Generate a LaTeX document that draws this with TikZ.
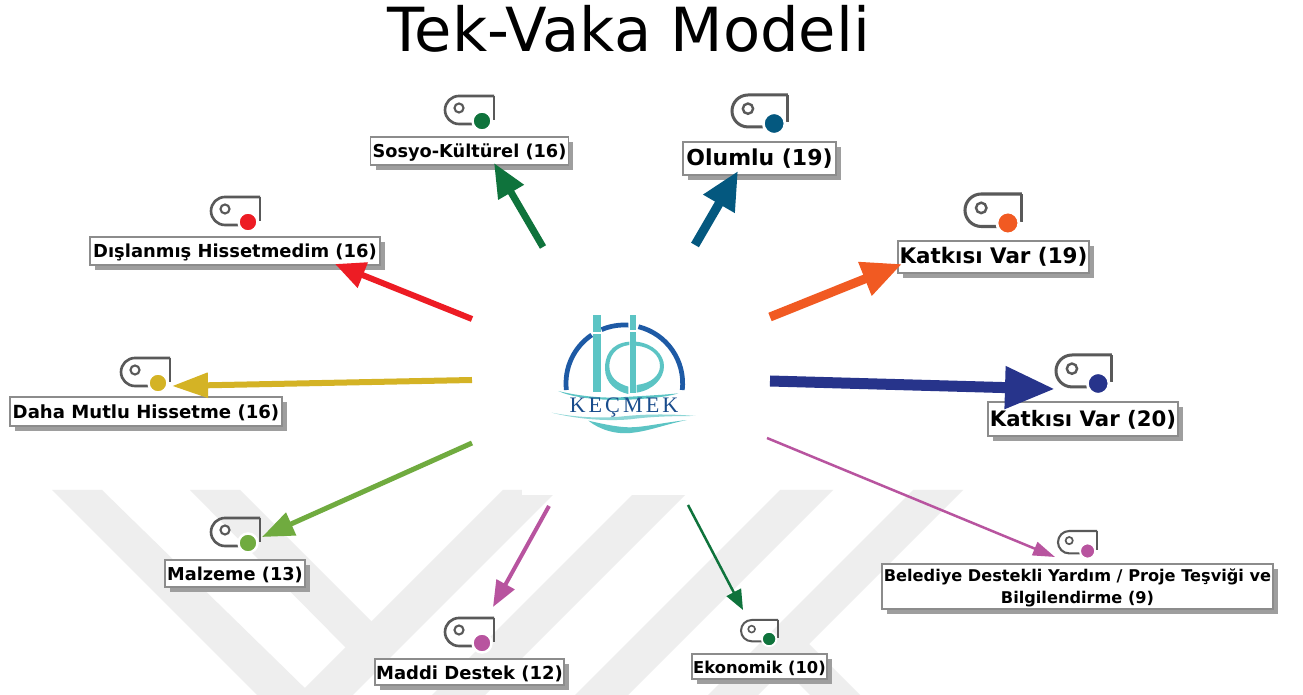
\documentclass[tikz,border=0pt]{standalone}
\usepackage{fontspec}
\setmainfont{DejaVu Sans}
\newfontfamily\logofont[LetterSpace=14]{Liberation Serif}
\usetikzlibrary{arrows.meta,shadows}
\definecolor{sosyocol}{RGB}{15,115,60}
\definecolor{olumlucol}{RGB}{4,88,127}
\definecolor{katkicol}{RGB}{241,90,34}
\definecolor{navycol}{RGB}{39,52,139}
\definecolor{morcol}{RGB}{184,84,159}
\definecolor{yesilcol}{RGB}{112,171,63}
\definecolor{saricol}{RGB}{212,179,37}
\definecolor{kirmizicol}{RGB}{237,28,36}
\definecolor{logoblue}{RGB}{30,90,165}
\definecolor{logoteal}{RGB}{92,196,196}
\definecolor{izcol}{RGB}{238,238,238}
\tikzset{
    etiket/.style={draw=black!45,line width=.7pt,fill=white,inner sep=0pt,align=center,
        drop shadow={shadow xshift=.1cm,shadow yshift=-.1cm,opacity=1,fill=black!38}},
    tekli/.style={etiket,text height=1.75ex},
    ok/.style n args={4}{draw=#1,line width=#2*.02cm,
        -{Triangle[length=#3*.02cm,width=#4*.02cm]}},
    iz/.style={fill=izcol,draw=none}
}
% x y scale colour
\newcommand{\simge}[4]{
    \begin{scope}[shift={(#1,#2)},scale=#3]
        \draw[black!65,line width=#3*1.5pt] (49,0) -- (14,0) arc (270:90:14) -- (28,28);
        \draw[black!65,line width=#3*1.5pt] (49,0) -- (49,24);
        \draw[black!65,line width=#3*1.2pt] (14,12) circle (4.5);
        \draw[draw=white,line width=#3*1.4pt,fill=#4] (37,25) circle (9.5);
    \end{scope}
}
\begin{document}
\begin{tikzpicture}[x=.02cm,y=-.02cm]
    \useasboundingbox (0,0) rectangle (1303,695);
    \fill[white] (0,0) rectangle (1303,695);
    % watermark
    \fill[iz] (52,490) -- (102,490) -- (312,695) -- (257,695) -- cycle;
    \fill[iz] (190,490) -- (240,490) -- (375,625) -- (348,650) -- cycle;
    \fill[iz] (503,490) -- (558,490) -- (353,695) -- (298,695) -- cycle;
    \fill[iz] (637,490) -- (690,490) -- (485,695) -- (432,695) -- cycle;
    \fill[iz] (780,490) -- (833,490) -- (628,695) -- (575,695) -- cycle;
    \fill[iz] (913,490) -- (963,490) -- (758,695) -- (708,695) -- cycle;
    \fill[iz] (808,643) -- (860,695) -- (810,695) -- (783,668) -- cycle;
    \fill[white] (522,485) rectangle (692,495);
    % title
    \node (baslik) at (629,29) {\fontsize{34.6}{40}\selectfont Tek-Vaka Modeli};
    % logo
    \begin{scope}[shift={(530,290)},x=.00667cm,y=-.00667cm]
        \draw[logoblue,line width=2.7pt] (283,280) ++(173.4:175) arc (173.4:236:175);
        \draw[logoblue,line width=2.7pt] (283,280) ++(247:175) arc (247:274:175);
        \draw[logoblue,line width=2.7pt] (283,280) ++(284:175) arc (284:366.6:175);
        \fill[logoteal] (190,75) rectangle (212,125);
        \fill[logoteal] (190,132) rectangle (212,305);
        \fill[logoteal] (300,75) rectangle (318,120);
        \fill[logoteal] (300,127) rectangle (318,310);
        \fill[logoteal] (298,155) .. controls (240,160) and (225,200) .. (225,235) .. controls (225,280) and (260,305) .. (295,312) -- (295,290) .. controls (260,280) and (238,260) .. (238,228) .. controls (238,200) and (255,170) .. (298,165) -- cycle;
        \fill[logoteal] (318,155) .. controls (370,160) and (402,195) .. (402,228) .. controls (402,265) and (370,300) .. (320,308) -- (320,285) .. controls (365,280) and (390,255) .. (390,228) .. controls (390,195) and (360,170) .. (318,167) -- cycle;
        \fill[white] (70,312) rectangle (480,325);
        \fill[logoteal] (85,303) .. controls (150,320) and (230,325) .. (270,322) .. controls (330,318) and (400,315) .. (445,310) .. controls (400,325) and (300,330) .. (250,330) .. controls (180,328) and (120,320) .. cycle;
        \node[text=logoblue!85!black,inner sep=0pt] (kecmek) at (282,352) {\logofont\fontsize{12.6}{13}\selectfont KEÇMEK};
        \fill[logoteal!70] (65,368) .. controls (150,385) and (230,385) .. (290,378) .. controls (350,372) and (430,372) .. (497,378) .. controls (420,378) and (360,380) .. (300,388) .. controls (220,395) and (130,385) .. cycle;
        \fill[logoteal] (175,392) .. controls (210,420) and (260,435) .. (310,428) .. controls (360,422) and (400,405) .. (470,390) .. controls (400,398) and (340,412) .. (300,412) .. controls (270,412) and (230,405) .. cycle;
    \end{scope}
    % labels
    \node[tekli,minimum width=3.96cm,minimum height=.56cm,font=\bfseries\fontsize{10.1}{11}\selectfont] (sosyo) at (469.5,151) {Sosyo-Kültürel (16)};
    \node[tekli,minimum width=3.06cm,minimum height=.66cm,font=\bfseries\fontsize{12.5}{14}\selectfont] (olumlu) at (759.5,158.5) {Olumlu (19)};
    \node[tekli,minimum width=3.82cm,minimum height=.64cm,font=\bfseries\fontsize{12.2}{14}\selectfont] (katkiA) at (993.5,257) {Katkısı Var (19)};
    \node[tekli,minimum width=3.80cm,minimum height=.68cm,font=\bfseries\fontsize{12.1}{14}\selectfont] (katkiB) at (1083,419) {Katkısı Var (20)};
    \node[etiket,minimum width=7.82cm,minimum height=.90cm,font=\bfseries\fontsize{9.2}{12.2}\selectfont] (belediye) at (1077.5,586.5) {\rule{0pt}{9pt}Belediye Destekli Yardım / Proje Teşviği ve\\Bilgilendirme (9)};
    \node[tekli,minimum width=2.70cm,minimum height=.50cm,font=\bfseries\fontsize{9.3}{11}\selectfont] (ekonomik) at (759.5,666.5) {Ekonomik (10)};
    \node[tekli,minimum width=3.78cm,minimum height=.52cm,font=\bfseries\fontsize{10.25}{12}\selectfont] (maddi) at (469.5,672) {Maddi Destek (12)};
    \node[tekli,minimum width=2.80cm,minimum height=.54cm,font=\bfseries\fontsize{10.1}{11}\selectfont] (malzeme) at (235,573.5) {Malzeme (13)};
    \node[tekli,minimum width=5.44cm,minimum height=.58cm,font=\bfseries\fontsize{10.3}{12}\selectfont] (daha) at (146,411.5) {Daha Mutlu Hissetme (16)};
    \node[tekli,minimum width=5.80cm,minimum height=.56cm,font=\bfseries\fontsize{10.2}{12}\selectfont] (dislan) at (235,251) {Dışlanmış Hissetmedim (16)};
    % icons
    \simge{445}{96}{1}{sosyocol}
    \simge{732}{95}{1.14}{olumlucol}
    \simge{965}{194}{1.16}{katkicol}
    \simge{1056}{355}{1.14}{navycol}
    \simge{1058}{531}{.8}{morcol}
    \simge{741}{620}{.76}{sosyocol}
    \simge{445}{618}{1}{morcol}
    \simge{211}{518}{1}{yesilcol}
    \simge{121}{358}{1}{saricol}
    \simge{211}{197}{1}{kirmizicol}
    % arrows
    \coordinate (sosyoT) at (543,247);
    \coordinate (sosyoH) at (494,163);
    \coordinate (olumluT) at (695,245);
    \coordinate (olumluH) at (738,171);
    \coordinate (katkiAT) at (770,317);
    \coordinate (katkiAH) at (902,264);
    \coordinate (katkiBT) at (770,381);
    \coordinate (katkiBH) at (1055,389);
    \coordinate (belediyeT) at (767,438);
    \coordinate (belediyeH) at (1055,557);
    \coordinate (ekonomikT) at (688,505);
    \coordinate (ekonomikH) at (743,610);
    \coordinate (maddiT) at (549,506);
    \coordinate (maddiH) at (493,607);
    \coordinate (malzemeT) at (472,443);
    \coordinate (malzemeH) at (262,537);
    \coordinate (dahaT) at (472,380);
    \coordinate (dahaH) at (172,386);
    \coordinate (dislanT) at (472,319);
    \coordinate (dislanH) at (335,264);
    \draw[ok={sosyocol}{7}{34}{28}] (sosyoT) -- (sosyoH);
    \draw[ok={olumlucol}{9}{38}{34}] (olumluT) -- (olumluH);
    \draw[ok={katkicol}{9}{40}{34}] (katkiAT) -- (katkiAH);
    \draw[ok={navycol}{11}{50}{40}] (katkiBT) -- (katkiBH);
    \draw[ok={morcol}{2.5}{22}{14}] (belediyeT) -- (belediyeH);
    \draw[ok={sosyocol}{2.5}{20}{16}] (ekonomikT) -- (ekonomikH);
    \draw[ok={morcol}{4}{26}{20}] (maddiT) -- (maddiH);
    \draw[ok={yesilcol}{5}{32}{24}] (malzemeT) -- (malzemeH);
    \draw[ok={saricol}{6}{36}{24}] (dahaT) -- (dahaH);
    \draw[ok={kirmizicol}{6}{30}{26}] (dislanT) -- (dislanH);
\end{tikzpicture}
\end{document}
